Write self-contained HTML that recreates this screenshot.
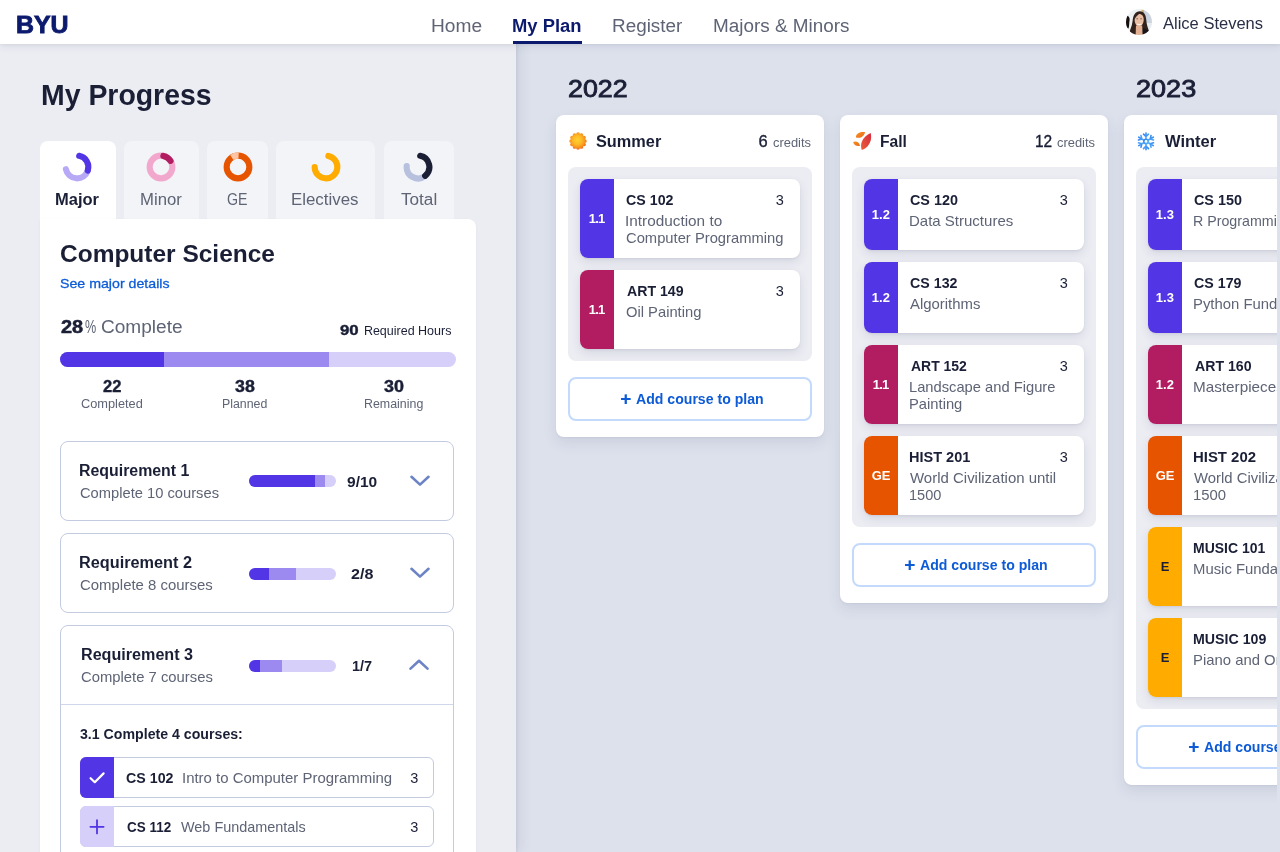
<!DOCTYPE html>
<html lang="en">
<head>
<meta charset="utf-8">
<title>BYU - My Plan</title>
<style>
html,body{margin:0;padding:0}
body{width:1280px;height:852px;overflow:hidden;position:relative;background:#dde1ec;font-family:"Liberation Sans", sans-serif;color:#1a1f36}
.a{position:absolute;display:block}
.t{position:absolute;white-space:nowrap;line-height:1;transform-origin:0 0}
#hdr{position:absolute;left:0;top:0;width:1280px;height:44px;background:#fff;z-index:3;box-shadow:0 1px 3px rgba(40,50,90,.07),0 3px 8px rgba(40,50,90,.07)}
#left{position:absolute;left:0;top:0;width:516px;height:852px;background:#ecedf3;z-index:2;overflow:hidden;box-shadow:1px 0 3px rgba(60,70,110,.10),4px 0 12px rgba(60,70,110,.10)}
#right{position:absolute;left:0;top:0;width:1277px;height:852px;overflow:hidden;z-index:1;background:#dde1ec}
.tab{border-radius:8px 8px 0 0;background:#f3f4f8}
.bar{border-radius:99px;overflow:hidden;background:#d6cffa;white-space:nowrap;font-size:0}
.bar i{display:inline-block;height:100%;vertical-align:top}
.req{border:1px solid #c3cbe1;border-radius:8px;box-sizing:border-box;background:#fff}
.row{border:1px solid #c3cbe1;border-radius:6px;box-sizing:border-box;background:#fff;overflow:hidden}
.col{background:#fff;border-radius:8px;box-shadow:0 1px 2px rgba(50,60,100,.06),0 6px 14px rgba(50,60,100,.10)}
.box{background:#ecedf3;border-radius:8px}
.crs{background:#fff;border-radius:8px;overflow:hidden;box-shadow:0 1px 2px rgba(50,60,100,.08),0 4px 10px rgba(50,60,100,.12)}
.btn{border:2px solid #c4dafc;border-radius:8px;box-sizing:border-box;background:#fff}

</style>
</head>
<body>
<div id="right">
<div class="a col" style="left:556px;top:115px;width:268px;height:322px"></div>
<div class="a box" style="left:568px;top:167px;width:244px;height:193.5px"></div>
<div class="a crs" style="left:580px;top:179px;width:220px;height:78.5px"><div class="a" style="left:0;top:0;width:34px;height:100%;background:#5235e4"></div></div>
<div class="a crs" style="left:580px;top:270px;width:220px;height:79px"><div class="a" style="left:0;top:0;width:34px;height:100%;background:#b21c61"></div></div>
<div class="a btn" style="left:568.4px;top:377.2px;width:243.400px;height:43.5px"></div>
<svg class="a" style="left:568px;top:131px" width="20" height="20" viewBox="0 0 20 20"><defs><radialGradient id="sg0" gradientUnits="userSpaceOnUse" cx="9.400" cy="9" r="9.200"><stop offset="0" stop-color="#ffd230"/><stop offset="0.5" stop-color="#fdb826"/><stop offset="0.82" stop-color="#f8931f"/><stop offset="1" stop-color="#f26f1c"/></radialGradient></defs><g fill="url(#sg0)"><circle cx="10" cy="10" r="7.500"/><circle cx="16.85" cy="10.00" r="1.850"/><circle cx="15.93" cy="13.42" r="1.850"/><circle cx="13.43" cy="15.93" r="1.850"/><circle cx="10.00" cy="16.85" r="1.850"/><circle cx="6.58" cy="15.93" r="1.850"/><circle cx="4.07" cy="13.42" r="1.850"/><circle cx="3.15" cy="10.00" r="1.850"/><circle cx="4.07" cy="6.58" r="1.850"/><circle cx="6.57" cy="4.07" r="1.850"/><circle cx="10.00" cy="3.15" r="1.850"/><circle cx="13.43" cy="4.07" r="1.850"/><circle cx="15.93" cy="6.57" r="1.850"/></g></svg>
<div class="a col" style="left:840px;top:115px;width:268px;height:488px"></div>
<div class="a box" style="left:852px;top:167px;width:244px;height:359.5px"></div>
<div class="a crs" style="left:864px;top:179px;width:220px;height:71px"><div class="a" style="left:0;top:0;width:34px;height:100%;background:#5235e4"></div></div>
<div class="a crs" style="left:864px;top:262px;width:220px;height:71px"><div class="a" style="left:0;top:0;width:34px;height:100%;background:#5235e4"></div></div>
<div class="a crs" style="left:864px;top:345px;width:220px;height:79px"><div class="a" style="left:0;top:0;width:34px;height:100%;background:#b21c61"></div></div>
<div class="a crs" style="left:864px;top:436px;width:220px;height:79px"><div class="a" style="left:0;top:0;width:34px;height:100%;background:#e65400"></div></div>
<div class="a btn" style="left:852.4px;top:543.2px;width:243.400px;height:43.5px"></div>
<svg class="a" style="left:851px;top:130px" width="22" height="22" viewBox="0 0 22 22"><defs><linearGradient id="fg1" x1="0" y1="0" x2="1" y2="1"><stop offset="0" stop-color="#f3921e"/><stop offset="1" stop-color="#ea6a20"/></linearGradient><linearGradient id="fg2" x1="1" y1="0" x2="0" y2="1"><stop offset="0" stop-color="#d42c3e"/><stop offset="1" stop-color="#ec5e3a"/></linearGradient></defs><path fill="url(#fg1)" d="M5 7.500C4.400 4.200 8.400 1.300 14.100 2.200C13 6.200 9.600 8.900 5 7.500Z"/><path fill="url(#fg1)" d="M2.100 12.100C4.600 10.500 8.200 11.900 9.100 15.700C6 16.800 2.900 15.300 2.100 12.100Z"/><path fill="url(#fg2)" d="M19.700 2.900C21.200 9 19.200 16.700 10.800 20.100C8.400 13.500 11.800 6.300 19.700 2.900Z"/></svg>
<div class="a col" style="left:1124px;top:115px;width:268px;height:670px"></div>
<div class="a box" style="left:1136px;top:167px;width:244px;height:542px"></div>
<div class="a crs" style="left:1148px;top:179px;width:220px;height:71px"><div class="a" style="left:0;top:0;width:34px;height:100%;background:#5235e4"></div></div>
<div class="a crs" style="left:1148px;top:262px;width:220px;height:71px"><div class="a" style="left:0;top:0;width:34px;height:100%;background:#5235e4"></div></div>
<div class="a crs" style="left:1148px;top:345px;width:220px;height:79px"><div class="a" style="left:0;top:0;width:34px;height:100%;background:#b21c61"></div></div>
<div class="a crs" style="left:1148px;top:436px;width:220px;height:79px"><div class="a" style="left:0;top:0;width:34px;height:100%;background:#e65400"></div></div>
<div class="a crs" style="left:1148px;top:527px;width:220px;height:79px"><div class="a" style="left:0;top:0;width:34px;height:100%;background:#ffab00"></div></div>
<div class="a crs" style="left:1148px;top:618px;width:220px;height:79px"><div class="a" style="left:0;top:0;width:34px;height:100%;background:#ffab00"></div></div>
<div class="a btn" style="left:1136.4px;top:725.2px;width:243.400px;height:43.5px"></div>
<svg class="a" style="left:1136px;top:131px" width="20" height="20" viewBox="0 0 20 20" fill="none" stroke-linecap="round" stroke-linejoin="round" stroke-width="1.6"><defs><linearGradient id="sn" x1="0" y1="0" x2="1" y2="1"><stop offset="0" stop-color="#2f7ff0"/><stop offset="1" stop-color="#5ab6fb"/></linearGradient></defs><g stroke="url(#sn)"><g transform="rotate(0 10 10.400)"><path d="M10 7.700V2M7.500 3.200L10 5.600L12.500 3.200"/></g><g transform="rotate(60 10 10.400)"><path d="M10 7.700V2M7.500 3.200L10 5.600L12.500 3.200"/></g><g transform="rotate(120 10 10.400)"><path d="M10 7.700V2M7.500 3.200L10 5.600L12.500 3.200"/></g><g transform="rotate(180 10 10.400)"><path d="M10 7.700V2M7.500 3.200L10 5.600L12.500 3.200"/></g><g transform="rotate(240 10 10.400)"><path d="M10 7.700V2M7.500 3.200L10 5.600L12.500 3.200"/></g><g transform="rotate(300 10 10.400)"><path d="M10 7.700V2M7.500 3.200L10 5.600L12.500 3.200"/></g><circle cx="10" cy="10.400" r="2.200"/></g></svg>
<span class="t" style="left:568.23px;top:75px;font-size:24px;line-height:27px;transform:scaleX(1.117);-webkit-text-stroke:0.85px #1a1f36;">2022</span>
<span class="t" style="left:1136.22px;top:75px;font-size:24px;line-height:27px;transform:scaleX(1.127);-webkit-text-stroke:0.85px #1a1f36;">2023</span>
<span class="t" style="left:596.46px;top:133px;font-size:16px;line-height:17px;font-weight:700;transform:scaleX(1.019);">Summer</span>
<span class="t" style="left:758.52px;top:132px;font-size:16.5px;line-height:18px;-webkit-text-stroke:0.35px #1a1f36;">6</span>
<span class="t" style="left:772.74px;top:136px;font-size:12.5px;line-height:14px;transform:scaleX(1.032);color:#5e6475;">credits</span>
<span class="t" style="left:626.45px;top:192px;font-size:14.6px;line-height:16px;font-weight:700;transform:scaleX(0.975);">CS 102</span>
<span class="t" style="left:775.76px;top:192px;font-size:14.5px;line-height:16px;">3</span>
<span class="t" style="left:625.26px;top:213px;font-size:14.6px;line-height:16px;transform:scaleX(1.051);color:#5e6475;">Introduction to</span>
<span class="t" style="left:626.01px;top:230px;font-size:14.6px;line-height:16px;transform:scaleX(1.011);color:#5e6475;">Computer Programming</span>
<span class="t" style="left:588.69px;top:211px;font-size:13px;line-height:15px;font-weight:700;color:#fff;letter-spacing:-0.75px;">1.1</span>
<span class="t" style="left:626.83px;top:283px;font-size:14.6px;line-height:16px;font-weight:700;transform:scaleX(0.969);">ART 149</span>
<span class="t" style="left:775.76px;top:283px;font-size:14.5px;line-height:16px;">3</span>
<span class="t" style="left:625.97px;top:304px;font-size:14.6px;line-height:16px;transform:scaleX(1.010);color:#5e6475;">Oil Painting</span>
<span class="t" style="left:588.69px;top:302px;font-size:13px;line-height:15px;font-weight:700;color:#fff;letter-spacing:-0.75px;">1.1</span>
<span class="t" style="left:620.20px;top:388px;font-size:19px;line-height:21px;font-weight:700;color:#0d5bd7;-webkit-text-stroke:0.15px #0d5bd7;">+</span>
<span class="t" style="left:635.92px;top:391px;font-size:14.6px;line-height:16px;font-weight:700;transform:scaleX(0.966);color:#0d5bd7;">Add course to plan</span>
<span class="t" style="left:880.37px;top:133px;font-size:16px;line-height:17px;font-weight:700;transform:scaleX(0.976);">Fall</span>
<span class="t" style="left:1035.41px;top:132px;font-size:16.5px;line-height:18px;transform:scaleX(0.938);-webkit-text-stroke:0.35px #1a1f36;">12</span>
<span class="t" style="left:1056.74px;top:136px;font-size:12.5px;line-height:14px;transform:scaleX(1.032);color:#5e6475;">credits</span>
<span class="t" style="left:910.45px;top:192px;font-size:14.6px;line-height:16px;font-weight:700;transform:scaleX(0.984);">CS 120</span>
<span class="t" style="left:1059.76px;top:192px;font-size:14.5px;line-height:16px;">3</span>
<span class="t" style="left:909.32px;top:213px;font-size:14.6px;line-height:16px;transform:scaleX(1.028);color:#5e6475;">Data Structures</span>
<span class="t" style="left:871.87px;top:207px;font-size:13px;line-height:15px;font-weight:700;color:#fff;">1.2</span>
<span class="t" style="left:910.45px;top:275px;font-size:14.6px;line-height:16px;font-weight:700;transform:scaleX(0.975);">CS 132</span>
<span class="t" style="left:1059.76px;top:275px;font-size:14.5px;line-height:16px;">3</span>
<span class="t" style="left:910.35px;top:296px;font-size:14.6px;line-height:16px;transform:scaleX(1.021);color:#5e6475;">Algorithms</span>
<span class="t" style="left:871.87px;top:290px;font-size:13px;line-height:15px;font-weight:700;color:#fff;">1.2</span>
<span class="t" style="left:910.85px;top:358px;font-size:14.6px;line-height:16px;font-weight:700;transform:scaleX(0.957);">ART 152</span>
<span class="t" style="left:1059.76px;top:358px;font-size:14.5px;line-height:16px;">3</span>
<span class="t" style="left:909.34px;top:379px;font-size:14.6px;line-height:16px;transform:scaleX(1.008);color:#5e6475;">Landscape and Figure</span>
<span class="t" style="left:909.34px;top:396px;font-size:14.6px;line-height:16px;transform:scaleX(1.011);color:#5e6475;">Painting</span>
<span class="t" style="left:872.69px;top:377px;font-size:13px;line-height:15px;font-weight:700;color:#fff;letter-spacing:-0.75px;">1.1</span>
<span class="t" style="left:909.35px;top:449px;font-size:14.6px;line-height:16px;font-weight:700;transform:scaleX(0.995);">HIST 201</span>
<span class="t" style="left:1059.76px;top:449px;font-size:14.5px;line-height:16px;">3</span>
<span class="t" style="left:910.35px;top:470px;font-size:14.6px;line-height:16px;transform:scaleX(1.026);color:#5e6475;">World Civilization until</span>
<span class="t" style="left:909.35px;top:487px;font-size:14.6px;line-height:16px;transform:scaleX(0.996);color:#5e6475;">1500</span>
<span class="t" style="left:871.72px;top:468px;font-size:13px;line-height:15px;font-weight:700;color:#fff;">GE</span>
<span class="t" style="left:904.20px;top:554px;font-size:19px;line-height:21px;font-weight:700;color:#0d5bd7;-webkit-text-stroke:0.15px #0d5bd7;">+</span>
<span class="t" style="left:919.92px;top:557px;font-size:14.6px;line-height:16px;font-weight:700;transform:scaleX(0.966);color:#0d5bd7;">Add course to plan</span>
<span class="t" style="left:1165.35px;top:133px;font-size:16px;line-height:17px;font-weight:700;transform:scaleX(1.031);">Winter</span>
<span class="t" style="left:1318.55px;top:132px;font-size:16.5px;line-height:18px;transform:scaleX(0.946);-webkit-text-stroke:0.35px #1a1f36;">18</span>
<span class="t" style="left:1340.99px;top:136px;font-size:12.5px;line-height:14px;transform:scaleX(1.032);color:#5e6475;">credits</span>
<span class="t" style="left:1194.45px;top:192px;font-size:14.6px;line-height:16px;font-weight:700;transform:scaleX(0.984);">CS 150</span>
<span class="t" style="left:1344.07px;top:192px;font-size:14.5px;line-height:16px;">3</span>
<span class="t" style="left:1193.28px;top:213px;font-size:14.6px;line-height:16px;transform:scaleX(0.975);color:#5e6475;">R Programming</span>
<span class="t" style="left:1155.87px;top:207px;font-size:13px;line-height:15px;font-weight:700;color:#fff;">1.3</span>
<span class="t" style="left:1194.45px;top:275px;font-size:14.6px;line-height:16px;font-weight:700;transform:scaleX(0.975);">CS 179</span>
<span class="t" style="left:1344.07px;top:275px;font-size:14.5px;line-height:16px;">3</span>
<span class="t" style="left:1193.23px;top:296px;font-size:14.6px;line-height:16px;transform:scaleX(1.019);color:#5e6475;">Python Fundamentals</span>
<span class="t" style="left:1155.87px;top:290px;font-size:13px;line-height:15px;font-weight:700;color:#fff;">1.3</span>
<span class="t" style="left:1194.85px;top:358px;font-size:14.6px;line-height:16px;font-weight:700;transform:scaleX(0.968);">ART 160</span>
<span class="t" style="left:1344.07px;top:358px;font-size:14.5px;line-height:16px;">3</span>
<span class="t" style="left:1193.20px;top:379px;font-size:14.6px;line-height:16px;transform:scaleX(1.047);color:#5e6475;">Masterpieces of Art</span>
<span class="t" style="left:1155.87px;top:377px;font-size:13px;line-height:15px;font-weight:700;color:#fff;">1.2</span>
<span class="t" style="left:1193.35px;top:449px;font-size:14.6px;line-height:16px;font-weight:700;transform:scaleX(1.022);">HIST 202</span>
<span class="t" style="left:1344.07px;top:449px;font-size:14.5px;line-height:16px;">3</span>
<span class="t" style="left:1194.25px;top:470px;font-size:14.6px;line-height:16px;transform:scaleX(1.019);color:#5e6475;">World Civilization from</span>
<span class="t" style="left:1193.23px;top:487px;font-size:14.6px;line-height:16px;transform:scaleX(1.019);color:#5e6475;">1500</span>
<span class="t" style="left:1155.72px;top:468px;font-size:13px;line-height:15px;font-weight:700;color:#fff;">GE</span>
<span class="t" style="left:1193.35px;top:540px;font-size:14.6px;line-height:16px;font-weight:700;transform:scaleX(0.958);">MUSIC 101</span>
<span class="t" style="left:1344.07px;top:540px;font-size:14.5px;line-height:16px;">3</span>
<span class="t" style="left:1193.23px;top:561px;font-size:14.6px;line-height:16px;transform:scaleX(1.019);color:#5e6475;">Music Fundamentals</span>
<span class="t" style="left:1160.65px;top:559px;font-size:13px;line-height:15px;font-weight:700;">E</span>
<span class="t" style="left:1193.35px;top:631px;font-size:14.6px;line-height:16px;font-weight:700;transform:scaleX(0.973);">MUSIC 109</span>
<span class="t" style="left:1344.07px;top:631px;font-size:14.5px;line-height:16px;">3</span>
<span class="t" style="left:1193.23px;top:652px;font-size:14.6px;line-height:16px;transform:scaleX(1.019);color:#5e6475;">Piano and Organ</span>
<span class="t" style="left:1160.65px;top:650px;font-size:13px;line-height:15px;font-weight:700;">E</span>
<span class="t" style="left:1188.20px;top:736px;font-size:19px;line-height:21px;font-weight:700;color:#0d5bd7;-webkit-text-stroke:0.15px #0d5bd7;">+</span>
<span class="t" style="left:1203.92px;top:739px;font-size:14.6px;line-height:16px;font-weight:700;transform:scaleX(0.966);color:#0d5bd7;">Add course to plan</span>
</div>
<div id="left">
<div class="a tab" style="left:40px;top:141px;width:76px;height:79px;background:#fff"></div>
<div class="a tab" style="left:124px;top:141px;width:75px;height:79px"></div>
<div class="a tab" style="left:207px;top:141px;width:60.5px;height:79px"></div>
<div class="a tab" style="left:276px;top:141px;width:99px;height:79px"></div>
<div class="a tab" style="left:384.4px;top:141px;width:69.5px;height:79px"></div>
<div class="a" style="left:40px;top:219px;width:436px;height:640px;background:#fff;border-radius:0 8px 0 0;box-shadow:0 1px 3px rgba(50,60,100,.06)"></div>
<svg class="a" style="left:61.45px;top:151.2px" width="32" height="32" viewBox="61.45 151.2 32 32" fill="none" stroke-width="6.1"><path d="M88.24 170.71A11.35 11.35 0 0 1 66.31 169.37" stroke="#b8a9f7" stroke-linecap="round"/><path d="M79.62 156.06A11.35 11.35 0 0 1 88.24 170.71" stroke="#5235e4" stroke-linecap="round"/></svg>
<svg class="a" style="left:145.3px;top:151.2px" width="32" height="32" viewBox="145.3 151.2 32 32" fill="none" stroke-width="6.1"><circle cx="161.3" cy="167.2" r="11.35" stroke="#f2a8cc"/><path d="M163.66 156.10A11.35 11.35 0 0 1 170.82 161.02" stroke="#b21c61" stroke-linecap="round"/></svg>
<svg class="a" style="left:221.5px;top:151.2px" width="32" height="32" viewBox="221.5 151.2 32 32" fill="none" stroke-width="6.1"><circle cx="237.5" cy="167.2" r="11.35" stroke="#e65400"/><path d="M231.32 157.68A11.35 11.35 0 0 1 238.09 155.87" stroke="#ffc5a3" stroke-linecap="butt"/></svg>
<svg class="a" style="left:309.7px;top:151.2px" width="32" height="32" viewBox="309.7 151.2 32 32" fill="none" stroke-width="6.1"><path d="M328.06 156.10A11.35 11.35 0 1 1 314.35 167.20" stroke="#ffab00" stroke-linecap="round"/></svg>
<svg class="a" style="left:402.35px;top:151.2px" width="32" height="32" viewBox="402.35 151.2 32 32" fill="none" stroke-width="6.1"><path d="M425.49 176.02A11.35 11.35 0 0 1 407.04 166.21" stroke="#b7c1dd" stroke-linecap="round"/><path d="M420.52 156.06A11.35 11.35 0 0 1 425.49 176.02" stroke="#1a1f36" stroke-linecap="round"/></svg>
<div class="a bar" style="left:60px;top:352px;width:396px;height:15px"><i style="width:104px;background:#5235e4"></i><i style="width:165px;background:#9c8af0"></i></div>
<div class="a req" style="left:60px;top:441px;width:394px;height:80px"></div>
<div class="a req" style="left:60px;top:533px;width:394px;height:80px"></div>
<div class="a req" style="left:60px;top:625px;width:394px;height:260px"></div>
<div class="a" style="left:61px;top:704px;width:392px;height:1px;background:#d0d7ea;"></div>
<div class="a bar" style="left:249px;top:475.2px;width:87px;height:12px"><i style="width:66px;background:#5235e4"></i><i style="width:10px;background:#9c8af0"></i></div>
<div class="a bar" style="left:249px;top:567.5px;width:87px;height:12px"><i style="width:19.75px;background:#5235e4"></i><i style="width:27.0px;background:#9c8af0"></i></div>
<div class="a bar" style="left:249px;top:659.5px;width:87px;height:12px"><i style="width:11px;background:#5235e4"></i><i style="width:21.75px;background:#9c8af0"></i></div>
<svg class="a" style="left:410px;top:475px" width="20" height="12" viewBox="0 0 20 12" fill="none" stroke="#6c84c6" stroke-width="2.6" stroke-linecap="round" stroke-linejoin="round"><path d="M1.5 1.8L10 9.6L18.5 1.8"/></svg>
<svg class="a" style="left:410px;top:567px" width="20" height="12" viewBox="0 0 20 12" fill="none" stroke="#6c84c6" stroke-width="2.6" stroke-linecap="round" stroke-linejoin="round"><path d="M1.5 1.8L10 9.6L18.5 1.8"/></svg>
<svg class="a" style="left:409px;top:658.5px" width="20" height="12" viewBox="0 0 20 12" fill="none" stroke="#6c84c6" stroke-width="2.6" stroke-linecap="round" stroke-linejoin="round"><path d="M1.5 9.6L10 1.8L18.5 9.6"/></svg>
<div class="a row" style="left:80px;top:756.500px;width:354px;height:41.500px"></div>
<div class="a" style="left:80px;top:756.500px;width:33.800px;height:41.500px;background:#5235e4;border-radius:6px 0 0 6px"></div>
<div class="a row" style="left:80px;top:806px;width:354px;height:41px"></div>
<div class="a" style="left:80px;top:806px;width:33.800px;height:41px;background:#d6cffa;border-radius:6px 0 0 6px"></div>
<svg class="a" style="left:88px;top:770px" width="18" height="16" viewBox="0 0 18 16" fill="none" stroke="#fff" stroke-width="2.2" stroke-linecap="round" stroke-linejoin="round"><path d="M2.600 8.200L6.800 12.200L15.600 3.400"/></svg>
<svg class="a" style="left:88px;top:818px" width="18" height="18" viewBox="0 0 18 18" fill="none" stroke="#5235e4" stroke-width="1.8" stroke-linecap="round"><path d="M9 2.200V15.400M2.400 8.800H15.600"/></svg>
<span class="t" style="left:40.77px;top:79px;font-size:29px;line-height:32px;font-weight:700;transform:scaleX(0.980);">My Progress</span>
<span class="t" style="left:55.32px;top:191px;font-size:16px;line-height:17px;font-weight:700;transform:scaleX(1.030);">Major</span>
<span class="t" style="left:140.31px;top:191px;font-size:16px;line-height:17px;transform:scaleX(1.045);color:#5e6475;">Minor</span>
<span class="t" style="left:227.07px;top:191px;font-size:16px;line-height:17px;transform:scaleX(0.886);color:#5e6475;">GE</span>
<span class="t" style="left:291.30px;top:191px;font-size:16px;line-height:17px;transform:scaleX(1.054);color:#5e6475;">Electives</span>
<span class="t" style="left:401.35px;top:191px;font-size:16px;line-height:17px;transform:scaleX(1.071);color:#5e6475;">Total</span>
<span class="t" style="left:60.35px;top:240px;font-size:24px;line-height:27px;font-weight:700;transform:scaleX(1.020);">Computer Science</span>
<span class="t" style="left:59.98px;top:276px;font-size:13.5px;line-height:15px;transform:scaleX(1.050);color:#0d5bd7;-webkit-text-stroke:0.3px #0d5bd7;">See major details</span>
<span class="t" style="left:60.50px;top:317px;font-size:17.5px;line-height:20px;font-weight:700;transform:scaleX(1.140);-webkit-text-stroke:0.5px #1a1f36;">28</span>
<span class="t" style="left:85.40px;top:317px;font-size:17.5px;line-height:20px;transform:scaleX(0.720);color:#5e6475;">%</span>
<span class="t" style="left:100.95px;top:317px;font-size:17.5px;line-height:20px;transform:scaleX(1.089);color:#5e6475;">Complete</span>
<span class="t" style="left:340.35px;top:322px;font-size:14px;line-height:16px;font-weight:700;transform:scaleX(1.199);-webkit-text-stroke:0.4px #1a1f36;">90</span>
<span class="t" style="left:363.90px;top:324px;font-size:12.5px;line-height:14px;">Required Hours</span>
<span class="t" style="left:103.35px;top:378px;font-size:16px;line-height:17px;font-weight:700;transform:scaleX(1.030);-webkit-text-stroke:0.4px #1a1f36;">22</span>
<span class="t" style="left:81.38px;top:397px;font-size:12.5px;line-height:14px;transform:scaleX(1.023);color:#5e6475;">Completed</span>
<span class="t" style="left:235.35px;top:378px;font-size:16px;line-height:17px;font-weight:700;transform:scaleX(1.112);-webkit-text-stroke:0.4px #1a1f36;">38</span>
<span class="t" style="left:222.36px;top:397px;font-size:12.5px;line-height:14px;transform:scaleX(0.989);color:#5e6475;">Planned</span>
<span class="t" style="left:384.35px;top:378px;font-size:16px;line-height:17px;font-weight:700;transform:scaleX(1.121);-webkit-text-stroke:0.4px #1a1f36;">30</span>
<span class="t" style="left:364.36px;top:397px;font-size:12.5px;line-height:14px;transform:scaleX(0.992);color:#5e6475;">Remaining</span>
<span class="t" style="left:79.36px;top:462px;font-size:16px;line-height:17px;font-weight:700;transform:scaleX(0.993);">Requirement 1</span>
<span class="t" style="left:80.02px;top:485px;font-size:14.6px;line-height:16px;transform:scaleX(1.008);color:#5e6475;">Complete 10 courses</span>
<span class="t" style="left:346.61px;top:473px;font-size:15px;line-height:17px;font-weight:700;transform:scaleX(1.034);">9/10</span>
<span class="t" style="left:79.33px;top:554px;font-size:16px;line-height:17px;font-weight:700;transform:scaleX(1.017);">Requirement 2</span>
<span class="t" style="left:79.98px;top:577px;font-size:14.6px;line-height:16px;transform:scaleX(1.023);color:#5e6475;">Complete 8 courses</span>
<span class="t" style="left:350.73px;top:565px;font-size:15px;line-height:17px;font-weight:700;transform:scaleX(1.074);">2/8</span>
<span class="t" style="left:80.74px;top:646px;font-size:16px;line-height:17px;font-weight:700;transform:scaleX(1.008);">Requirement 3</span>
<span class="t" style="left:81.00px;top:669px;font-size:14.6px;line-height:16px;transform:scaleX(1.016);color:#5e6475;">Complete 7 courses</span>
<span class="t" style="left:352.35px;top:657px;font-size:15px;line-height:17px;font-weight:700;transform:scaleX(0.966);">1/7</span>
<span class="t" style="left:80.33px;top:726px;font-size:14px;line-height:16px;font-weight:700;transform:scaleX(1.011);">3.1 Complete 4 courses:</span>
<span class="t" style="left:126.45px;top:770px;font-size:14.6px;line-height:16px;font-weight:700;transform:scaleX(0.975);">CS 102</span>
<span class="t" style="left:182.33px;top:770px;font-size:14.6px;line-height:16px;transform:scaleX(1.024);color:#5e6475;">Intro to Computer Programming</span>
<span class="t" style="left:410.32px;top:770px;font-size:14.5px;line-height:16px;">3</span>
<span class="t" style="left:126.55px;top:819px;font-size:14.6px;line-height:16px;font-weight:700;transform:scaleX(0.923);">CS 112</span>
<span class="t" style="left:181.35px;top:819px;font-size:14.6px;line-height:16px;transform:scaleX(0.988);color:#5e6475;">Web Fundamentals</span>
<span class="t" style="left:410.32px;top:819px;font-size:14.5px;line-height:16px;">3</span>
</div>
<div id="hdr">
<div class="a" style="left:513px;top:41px;width:68.5px;height:3px;background:#0c1a6e;"></div>
<svg class="a" style="left:1126px;top:9px" width="26" height="26" viewBox="0 0 26 26"><defs><clipPath id="av"><circle cx="13" cy="13" r="13"/></clipPath><filter id="avb" x="-10%" y="-10%" width="120%" height="120%"><feGaussianBlur stdDeviation="0.45"/></filter></defs><g clip-path="url(#av)"><g filter="url(#avb)"><rect x="-2" y="-2" width="30" height="30" fill="#eef1f1"/><rect x="18" y="-2" width="10" height="22" fill="#ccd5df"/><rect x="20.500" y="14" width="6" height="6" fill="#e6ebf0"/><rect x="15.500" y="0.500" width="2.500" height="3" fill="#cdb777"/><path d="M-1 6.500C2 6 4 8 3.600 11C3 14 3.500 17 2.500 19.500L-1 19Z" fill="#15110f"/><path d="M2.500 27C3 22 6 18 6.600 12C7 6 9.500 2.200 13.800 2.200C18.500 2.200 20 6.500 20.300 11C20.600 16 22 19 23 22L23 27Z" fill="#33231d"/><path d="M17 19L23 21.500L23.500 27L15 27Z" fill="#14181b"/><path d="M8.600 11.200C8.400 7.400 10.500 5 13.200 5C16 5 17.800 7.200 17.700 11C17.600 14.500 15.600 17.300 13.200 17.300C10.800 17.300 8.800 14.800 8.600 11.200Z" fill="#e7bda3"/><path d="M8.200 11C8 7 10 4.400 13.600 4.600C11.800 6 9.800 8 8.200 11Z" fill="#33231d"/><path d="M10 16.500L16.200 16.500L16.600 27L9.600 27Z" fill="#e2b092"/><path d="M10.800 15Q13.200 16.800 15.600 15Q13.200 15.900 10.800 15Z" fill="#fff" stroke="#fff" stroke-width="0.5"/><path d="M10.500 9.800H12M14.300 9.800H15.800" stroke="#4a332a" stroke-width="0.7"/></g></g></svg>
<span class="t" style="left:16.31px;top:11px;font-size:24px;line-height:27px;font-weight:900;transform:scaleX(1.037);color:#0c1a6e;-webkit-text-stroke:0.9px #0c1a6e;">BYU</span>
<span class="t" style="left:430.67px;top:16px;font-size:18px;line-height:20px;transform:scaleX(1.063);color:#5e6475;">Home</span>
<span class="t" style="left:512.33px;top:16px;font-size:18px;line-height:20px;font-weight:700;transform:scaleX(1.021);color:#0c1a6e;">My Plan</span>
<span class="t" style="left:611.74px;top:16px;font-size:18px;line-height:20px;transform:scaleX(1.049);color:#5e6475;">Register</span>
<span class="t" style="left:712.78px;top:16px;font-size:18px;line-height:20px;transform:scaleX(1.050);color:#5e6475;">Majors &amp; Minors</span>
<span class="t" style="left:1162.75px;top:15px;font-size:16px;line-height:17px;transform:scaleX(1.032);color:#2a2f45;">Alice Stevens</span>
</div>
</body>
</html>
